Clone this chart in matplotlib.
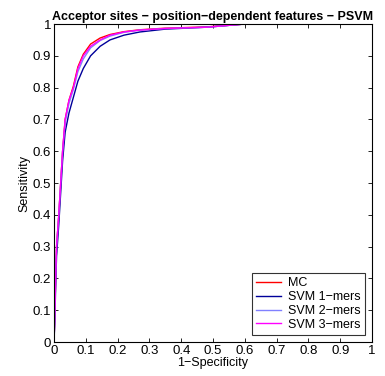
"""
Acceptor sites ROC curves (position-dependent features, PSVM).
"""

import matplotlib
matplotlib.use("Agg")
import matplotlib.pyplot as plt

plt.rcParams["font.family"] = ["Liberation Sans", "DejaVu Sans"]

# 1-Specificity (shared grid) and Sensitivity per model
fpr = [0, 0.003, 0.005, 0.008, 0.015, 0.021, 0.027, 0.035, 0.047, 0.061,
       0.075, 0.092, 0.115, 0.145, 0.176, 0.22, 0.27, 0.35, 0.48, 0.6, 1.0]

tpr_mc = [0, 0.1, 0.2, 0.3, 0.4, 0.5, 0.6, 0.7, 0.76, 0.805,
          0.865, 0.905, 0.937, 0.956, 0.967, 0.976, 0.982, 0.987, 0.991, 1.0, 1.0]
tpr_svm1 = [0, 0.08, 0.17, 0.27, 0.37, 0.47, 0.57, 0.66, 0.72, 0.77,
            0.82, 0.86, 0.9, 0.93, 0.95, 0.965, 0.975, 0.984, 0.99, 1.0, 1.0]
tpr_svm2 = [0, 0.1, 0.2, 0.3, 0.4, 0.5, 0.6, 0.69, 0.75, 0.795,
            0.85, 0.89, 0.925, 0.948, 0.962, 0.974, 0.981, 0.986, 0.99, 1.0, 1.0]
tpr_svm3 = [0, 0.1, 0.2, 0.3, 0.4, 0.5, 0.6, 0.7, 0.76, 0.8,
            0.86, 0.9, 0.93, 0.95, 0.965, 0.975, 0.981, 0.986, 0.99, 1.0, 1.0]

labels = ["MC", "SVM 1\u2212mers", "SVM 2\u2212mers", "SVM 3\u2212mers"]
colors = ["#ff0000", "#00009a", "#8080ff", "#ff00ff"]
ticks = [0, 0.1, 0.2, 0.3, 0.4, 0.5, 0.6, 0.7, 0.8, 0.9, 1]
tick_labels = ["0", "0.1", "0.2", "0.3", "0.4", "0.5", "0.6", "0.7", "0.8", "0.9", "1"]

fig = plt.figure(figsize=(3.85, 3.76), dpi=100)
ax = fig.add_axes([0.1403, 0.0904, 0.8260, 0.8457])

for tpr, lab, col in zip([tpr_mc, tpr_svm1, tpr_svm2, tpr_svm3], labels, colors):
    ax.plot(fpr, tpr, color=col, lw=1.0, label=lab)

ax.set_xlim(0, 1)
ax.set_ylim(0, 1)
ax.set_xticks(ticks)
ax.set_xticklabels(tick_labels)
ax.set_yticks(ticks)
ax.set_yticklabels(tick_labels)
ax.tick_params(direction="in", top=True, right=True, labelsize=9.5,
               length=3, width=0.6, pad=2)
for s in ax.spines.values():
    s.set_linewidth(0.8)

ax.set_xlabel("1\u2212Specificity", fontsize=9, labelpad=0)
ax.set_ylabel("Sensitivity", fontsize=9, labelpad=2)
ax.set_title("Acceptor sites \u2212 position\u2212dependent features \u2212 PSVM",
             fontsize=9, fontweight="bold", pad=3)

leg = ax.legend(loc="lower right", fontsize=9, frameon=True, fancybox=False,
                edgecolor="black", handlelength=2.0, handletextpad=0.6,
                borderpad=0.3, labelspacing=0.15, borderaxespad=0.6)
leg.get_frame().set_linewidth(0.8)

fig.savefig("out.png", dpi=100)
